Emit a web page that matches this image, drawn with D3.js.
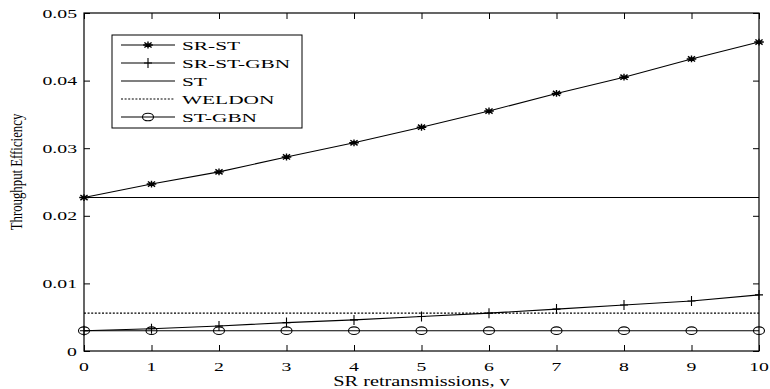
<!DOCTYPE html>
<html>
<head>
<meta charset="utf-8">
<script src="https://cdn.jsdelivr.net/npm/d3@7"></script>
<style>
  body { margin: 0; background: #fff; }
  svg { display: block; }
  text { font-family: "Liberation Serif", "DejaVu Serif", serif; fill: #000; }
</style>
</head>
<body>
<div id="chartdiv"></div>
<script>
// values
var retransmissions = [0, 1, 2, 3, 4, 5, 6, 7, 8, 9, 10];
var srST = [0.0227, 0.0247, 0.0265, 0.0287, 0.0308, 0.0331, 0.0355, 0.0381, 0.0405, 0.0432, 0.0457];
var srSTGBN = [0.0030, 0.0033, 0.0037, 0.0042, 0.0046, 0.0051, 0.0056, 0.0062, 0.0068, 0.0074, 0.0083];
var stLevel = [0.0227, 0.0227, 0.0227, 0.0227, 0.0227, 0.0227, 0.0227, 0.0227, 0.0227, 0.0227, 0.0227];
var weldon = [0.0056, 0.0056, 0.0056, 0.0056, 0.0056, 0.0056, 0.0056, 0.0056, 0.0056, 0.0056, 0.0056];
var stGBN = [0.0030, 0.0030, 0.0030, 0.0030, 0.0030, 0.0030, 0.0030, 0.0030, 0.0030, 0.0030, 0.0030];
var yTicks = [0, 0.01, 0.02, 0.03, 0.04, 0.05];
var yTickLabels = ["0", "0.01", "0.02", "0.03", "0.04", "0.05"];
var xTicks = [0, 1, 2, 3, 4, 5, 6, 7, 8, 9, 10];
var seriesNames = ["SR-ST", "SR-ST-GBN", "ST", "WELDON", "ST-GBN"];
var seriesMarkers = ["star", "plus", "none", "none", "circle"];

var W = 770, H = 389;
// (not "top": that one is taken by window.top)
var plotLeft = 84, plotRight = 759, plotTop = 13, plotBottom = 351;
var sx = 1.58; // the picture is stretched sideways, so is its text

var x = d3.scaleLinear().domain([0, 10]).range([plotLeft, plotRight]);
var y = d3.scaleLinear().domain([0, 0.05]).range([plotBottom, plotTop]);

var svg = d3.select("#chartdiv").append("svg")
  .attr("width", W)
  .attr("height", H);

var series = [
  { name: seriesNames[0], values: srST, marker: seriesMarkers[0], dash: null },
  { name: seriesNames[1], values: srSTGBN, marker: seriesMarkers[1], dash: null },
  { name: seriesNames[2], values: stLevel, marker: seriesMarkers[2], dash: null },
  { name: seriesNames[3], values: weldon, marker: seriesMarkers[3], dash: "2,1.6" },
  { name: seriesNames[4], values: stGBN, marker: seriesMarkers[4], dash: null }
];

function drawMarker(g, kind, cx, cy) {
  if (kind == "star") {
    var r = 4.8, ry = 3.4;
    g.append("path")
      .attr("d", "M" + (cx - r) + "," + cy + "H" + (cx + r) +
        "M" + cx + "," + (cy - ry) + "V" + (cy + ry) +
        "M" + (cx - r * 0.75) + "," + (cy - ry * 0.75) + "L" + (cx + r * 0.75) + "," + (cy + ry * 0.75) +
        "M" + (cx - r * 0.75) + "," + (cy + ry * 0.75) + "L" + (cx + r * 0.75) + "," + (cy - ry * 0.75))
      .attr("stroke", "#000")
      .attr("stroke-width", 1.4)
      .attr("fill", "none");
  } else if (kind == "plus") {
    g.append("path")
      .attr("d", "M" + (cx - 4) + "," + cy + "H" + (cx + 4) + "M" + cx + "," + (cy - 5) + "V" + (cy + 5))
      .attr("stroke", "#000")
      .attr("stroke-width", 1.1)
      .attr("fill", "none");
  } else if (kind == "circle") {
    g.append("ellipse")
      .attr("cx", cx)
      .attr("cy", cy)
      .attr("rx", 5.5)
      .attr("ry", 3.8)
      .attr("stroke", "#000")
      .attr("stroke-width", 1.1)
      .attr("fill", "none");
  }
}

// the lines
var line = d3.line()
  .x(function(d, i) { return x(retransmissions[i]); })
  .y(function(d) { return y(d); });

series.forEach(function(s) {
  svg.append("path")
    .attr("d", line(s.values))
    .attr("fill", "none")
    .attr("stroke", "#000")
    .attr("stroke-width", 1.1)
    .attr("stroke-dasharray", s.dash);
});

series.forEach(function(s) {
  var g = svg.append("g");
  s.values.forEach(function(v, i) {
    drawMarker(g, s.marker, x(retransmissions[i]), y(v));
  });
});

// axes, MATLAB style: ticks inside, box all round
svg.append("g")
  .attr("transform", "translate(0," + plotBottom + ")")
  .call(d3.axisTop(x).tickValues(xTicks).tickSize(6).tickFormat(""))
  .call(function(g) { g.select(".domain").remove(); });
svg.append("g")
  .attr("transform", "translate(0," + plotTop + ")")
  .call(d3.axisBottom(x).tickValues(xTicks).tickSize(6).tickFormat(""))
  .call(function(g) { g.select(".domain").remove(); });
svg.append("g")
  .attr("transform", "translate(" + plotLeft + ",0)")
  .call(d3.axisRight(y).tickValues(yTicks).tickSize(6).tickFormat(""))
  .call(function(g) { g.select(".domain").remove(); });
svg.append("g")
  .attr("transform", "translate(" + plotRight + ",0)")
  .call(d3.axisLeft(y).tickValues(yTicks).tickSize(6).tickFormat(""))
  .call(function(g) { g.select(".domain").remove(); });
svg.selectAll(".tick line").attr("stroke", "#000").attr("stroke-width", 1);

svg.append("rect")
  .attr("x", plotLeft)
  .attr("y", plotTop)
  .attr("width", plotRight - plotLeft)
  .attr("height", plotBottom - plotTop)
  .attr("fill", "none")
  .attr("stroke", "#000")
  .attr("stroke-width", 1.2);

// tick labels
yTicks.forEach(function(t, i) {
  svg.append("text")
    .attr("transform", "translate(" + (plotLeft - 7) + "," + (y(t) + 4.5) + ") scale(" + sx + ",1)")
    .attr("text-anchor", "end")
    .attr("font-size", 12.5)
    .text(yTickLabels[i]);
});
xTicks.forEach(function(t) {
  svg.append("text")
    .attr("transform", "translate(" + x(t) + "," + (plotBottom + 20) + ") scale(" + sx + ",1)")
    .attr("text-anchor", "middle")
    .attr("font-size", 12.5)
    .text(t);
});

// axis titles
svg.append("text")
  .attr("transform", "translate(" + ((plotLeft + plotRight) / 2) + "," + (H - 3) + ") scale(1.4,1)")
  .attr("text-anchor", "middle")
  .attr("font-size", 14.5)
  .text("SR retransmissions, v");

svg.append("text")
  .attr("transform", "translate(22,172) rotate(-90) scale(1,1.35)")
  .attr("text-anchor", "middle")
  .attr("font-size", 12.8)
  .text("Throughput Efficiency");

// legend
var legend = svg.append("g");
legend.append("rect")
  .attr("x", 112)
  .attr("y", 35)
  .attr("width", 190)
  .attr("height", 93)
  .attr("fill", "#fff")
  .attr("stroke", "#000")
  .attr("stroke-width", 1);

series.forEach(function(s, i) {
  var ry = 45 + i * 18;
  legend.append("line")
    .attr("x1", 121)
    .attr("x2", 175)
    .attr("y1", ry)
    .attr("y2", ry)
    .attr("stroke", "#000")
    .attr("stroke-width", 1.1)
    .attr("stroke-dasharray", s.dash);
  drawMarker(legend, s.marker, 148, ry);
  legend.append("text")
    .attr("transform", "translate(182," + (ry + 4.6) + ") scale(" + sx + ",1)")
    .attr("font-size", 13.5)
    .text(s.name);
});
</script>
</body>
</html>
